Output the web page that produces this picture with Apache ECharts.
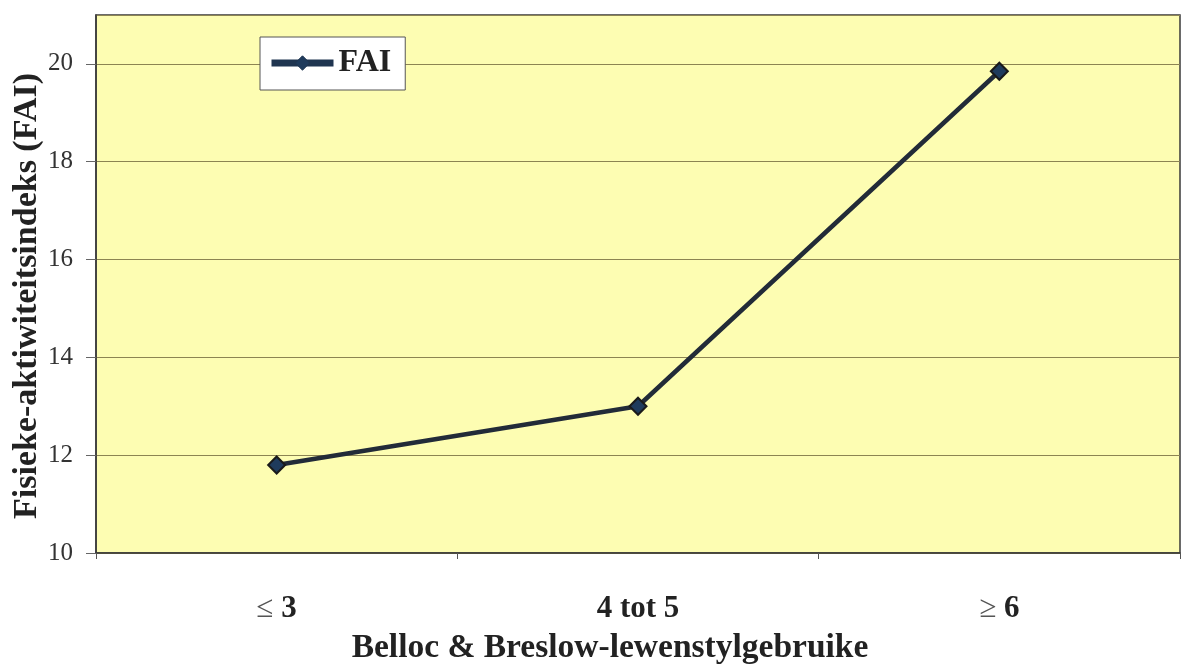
<!DOCTYPE html>
<html>
<head>
<meta charset="utf-8">
<script src="https://cdn.jsdelivr.net/npm/echarts@6/dist/echarts.min.js"></script>
<style>
  html, body { margin: 0; padding: 0; background: #fff; }
  #chart { width: 1181px; height: 664px; }
</style>
</head>
<body>
<div id="chart"></div>
<script>
// data
var categories = ['≤ 3', '4 tot 5', '≥ 6'];
var faiValues = [11.8, 13.0, 19.85];
var seriesName = 'FAI';

var serif = '"Liberation Serif", "DejaVu Serif", serif';
var myChart = echarts.init(document.getElementById('chart'));

var option = {
    backgroundColor: '#ffffff',
    textStyle: { fontFamily: serif },
    grid: {
        left: 96, top: 15, right: 1, bottom: 111,
        outerBoundsMode: 'none',
        containLabel: false,
        show: true,
        backgroundColor: '#fdfdb2',
        borderColor: '#3a3a3a',
        borderWidth: 1.5
    },
    legend: {
        left: 260, top: 37,
        orient: 'horizontal',
        data: [seriesName],
        itemWidth: 62, itemHeight: 18,
        itemGap: 8,
        padding: [10, 14, 11, 8],
        backgroundColor: '#ffffff',
        borderColor: '#555',
        borderWidth: 1,
        lineStyle: { width: 7, color: '#1f3550' },
        itemStyle: { color: '#1f3b5c', borderColor: '#1f3550', borderWidth: 1 },
        textStyle: { fontFamily: serif, fontSize: 32, fontWeight: 'bold', color: '#222' }
    },
    xAxis: {
        type: 'category',
        data: categories,
        boundaryGap: true,
        name: 'Belloc & Breslow-lewenstylgebruike',
        nameLocation: 'middle',
        nameGap: 78,
        nameMoveOverlap: false,
        nameTextStyle: {
            fontFamily: serif, fontSize: 33.5, fontWeight: 'bold', color: '#222',
            padding: [0, 56, 0, 0]
        },
        axisLine: { show: true, lineStyle: { color: '#3a3a3a', width: 1.5 } },
        axisTick: { show: true, length: 6, lineStyle: { color: '#555' } },
        axisLabel: {
            margin: 40,
            formatter: function (v) {
                var c = v.charAt(0);
                if (c === '≤' || c === '≥') {
                    return '{s|' + c + ' }{b|' + v.slice(1).trim() + '}';
                }
                return '{b|' + v + '}';
            },
            rich: {
                s: { fontFamily: serif, fontSize: 31, color: '#555' },
                b: { fontFamily: serif, fontSize: 31, fontWeight: 'bold', color: '#222' }
            }
        },
        splitLine: { show: false }
    },
    yAxis: {
        type: 'value',
        min: 10, max: 21, interval: 2,
        name: 'Fisieke-aktiwiteitsindeks (FAI)',
        nameLocation: 'middle',
        nameGap: 52,
        nameMoveOverlap: false,
        nameRotate: 90,
        nameTextStyle: {
            fontFamily: serif, fontSize: 34, fontWeight: 'bold', color: '#222',
            padding: [0, 24, 0, 0]
        },
        axisLine: { show: true, lineStyle: { color: '#3a3a3a', width: 1.5 } },
        axisTick: { show: true, length: 10, inside: false, lineStyle: { color: '#666' } },
        axisLabel: {
            showMaxLabel: false,
            margin: 23,
            fontFamily: serif, fontSize: 25, color: '#333'
        },
        splitLine: { show: true, lineStyle: { color: '#8c8452', width: 1 } }
    },
    series: [
        {
            name: seriesName,
            type: 'line',
            data: faiValues,
            symbol: 'diamond',
            symbolSize: 17,
            lineStyle: { color: '#222b38', width: 4.5 },
            itemStyle: { color: '#1f3b5c', borderColor: '#1a1a1a', borderWidth: 2 },
            animation: false
        }
    ]
};

myChart.setOption(option);
</script>
</body>
</html>
